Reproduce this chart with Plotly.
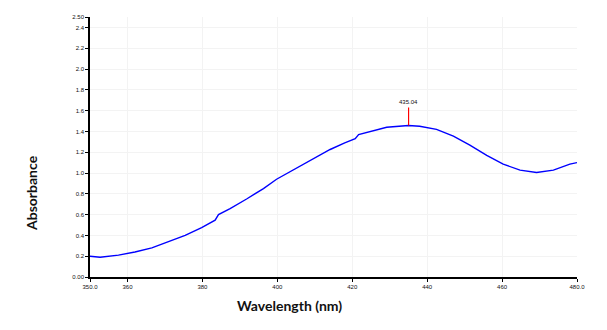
import plotly.graph_objects as go

wavelength = [350.0, 352.7, 357.6, 362.0, 366.5, 370.9, 375.4, 379.8, 383.4, 384.3, 387.4, 391.8,
              396.3, 399.8, 405.2, 409.7, 414.1, 418.0, 420.8, 421.7, 424.8, 429.2, 435.0, 438.0,
              442.5, 447.0, 451.4, 455.9, 460.3, 464.8, 469.2, 473.7, 478.1, 480.0]
absorbance = [0.20, 0.19, 0.21, 0.24, 0.28, 0.34, 0.40, 0.475, 0.546, 0.60, 0.658, 0.75,
              0.85, 0.94, 1.045, 1.14, 1.226, 1.29, 1.33, 1.37, 1.40, 1.44, 1.457, 1.45,
              1.42, 1.354, 1.268, 1.17, 1.085, 1.027, 1.005, 1.027, 1.085, 1.10]

x_tickvals = [350, 360, 380, 400, 420, 440, 460, 480]
x_ticktext = ["350.0", "360", "380", "400", "420", "440", "460", "480.0"]
y_tickvals = [0, 0.2, 0.4, 0.6, 0.8, 1.0, 1.2, 1.4, 1.6, 1.8, 2.0, 2.2, 2.4, 2.5]
y_ticktext = ["0.00", "0.2", "0.4", "0.6", "0.8", "1.0", "1.2", "1.4", "1.6", "1.8", "2.0", "2.2", "2.4", "2.50"]

peak_x = 435.04
peak_y = 1.457
peak_top = 1.63
peak_label = "435.04"

fig = go.Figure()
fig.add_trace(go.Scatter(x=wavelength, y=absorbance, mode="lines",
                         line=dict(color="#0000ff", width=1.4), showlegend=False))

fig.add_shape(type="line", x0=peak_x, x1=peak_x, y0=peak_y, y1=peak_top,
              xref="x", yref="y", line=dict(color="#ff0000", width=1.2))
fig.add_annotation(x=peak_x, y=peak_top, text=peak_label, showarrow=False,
                   xref="x", yref="y", yanchor="bottom", yshift=0,
                   font=dict(size=6, color="#111111", family="Liberation Sans"))

fig.add_annotation(text="<b>Wavelength (nm)</b>", xref="paper", yref="paper",
                   x=(289 - 90) / 487, y=-(305 - 277) / 260, showarrow=False,
                   xanchor="center", yanchor="middle",
                   font=dict(size=14, color="#111111", family="Lato"))
fig.add_annotation(text="<b>Absorbance</b>", xref="paper", yref="paper",
                   x=-(90 - 31) / 487, y=(277 - 193) / 260, showarrow=False,
                   textangle=-90, xanchor="center", yanchor="middle",
                   font=dict(size=14, color="#111111", family="Lato"))

fig.update_xaxes(range=[350, 480], tickvals=x_tickvals, ticktext=x_ticktext,
                 showline=True, linecolor="black", linewidth=1.5,
                 ticks="outside", ticklen=3, tickcolor="black", tickwidth=1.2,
                 showgrid=True, gridcolor="#f3f3f3", gridwidth=1, zeroline=False,
                 tickfont=dict(size=6, color="#111111", family="Liberation Sans"))
fig.update_yaxes(range=[0, 2.5], tickvals=y_tickvals, ticktext=y_ticktext,
                 showline=True, linecolor="black", linewidth=1.5,
                 ticks="outside", ticklen=3, tickcolor="black", tickwidth=1.2,
                 showgrid=True, gridcolor="#f3f3f3", gridwidth=1, zeroline=False,
                 tickfont=dict(size=6, color="#111111", family="Liberation Sans"))

fig.update_layout(width=607, height=330, margin=dict(l=90, r=30, t=17, b=53),
                  plot_bgcolor="white", paper_bgcolor="white")

fig.write_html("out.html")
